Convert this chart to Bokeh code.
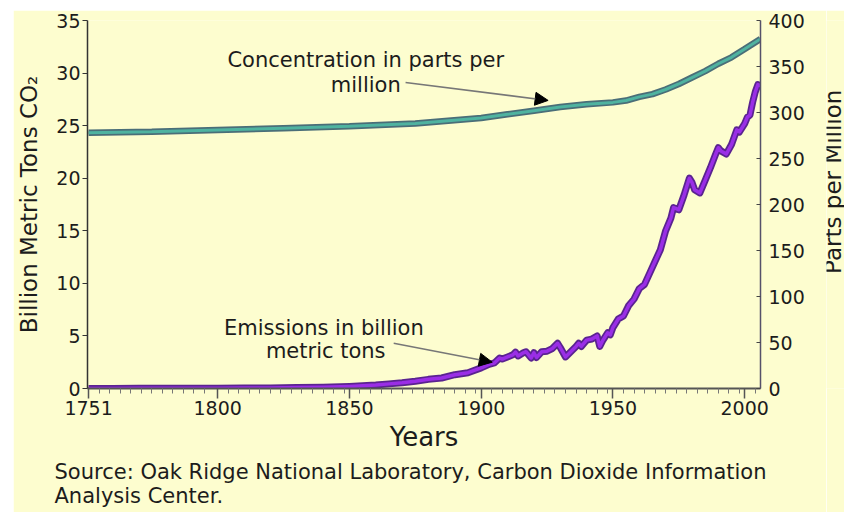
import math
from bokeh.plotting import figure
from bokeh.layouts import row
from bokeh.models import Range1d, LinearAxis, FixedTicker, Label, Arrow, NormalHead, Title
from bokeh.embed import file_html
from bokeh.resources import INLINE

# ---------------- data ----------------
emis_years = [1751, 1760, 1770, 1780, 1790, 1800, 1810, 1820, 1830, 1840, 1850, 1855,
              1860, 1865, 1870, 1875, 1880, 1885, 1890, 1895, 1900, 1903, 1905, 1907,
              1908, 1910, 1912, 1913, 1914, 1916, 1917, 1919, 1920, 1921, 1923, 1925,
              1927, 1929, 1930, 1932, 1934, 1936, 1937, 1938, 1940, 1942, 1944, 1945,
              1946, 1948, 1949, 1950, 1952, 1954, 1956, 1958, 1960, 1962, 1964, 1966,
              1968, 1970, 1972, 1973, 1974, 1975, 1977, 1979, 1980, 1981, 1983, 1985,
              1987, 1989, 1990, 1991, 1993, 1995, 1997, 1998, 2000, 2001, 2002, 2003,
              2004, 2005, 2006]
emis_values = [0.01, 0.01, 0.02, 0.02, 0.03, 0.03, 0.04, 0.05, 0.09, 0.13, 0.20, 0.26,
               0.33, 0.44, 0.54, 0.69, 0.87, 1.00, 1.31, 1.50, 1.96, 2.30, 2.43, 2.90,
               2.80, 3.00, 3.20, 3.46, 3.10, 3.40, 3.50, 2.90, 3.40, 2.95, 3.50, 3.55,
               3.80, 4.30, 3.90, 3.00, 3.50, 4.00, 4.30, 4.00, 4.60, 4.70, 5.00, 4.00,
               4.50, 5.30, 5.10, 5.80, 6.60, 6.90, 7.90, 8.50, 9.50, 9.90, 11.0, 12.1,
               13.2, 15.0, 16.2, 17.2, 17.1, 17.0, 18.4, 20.0, 19.6, 18.9, 18.6, 19.8,
               21.0, 22.3, 22.9, 22.6, 22.3, 23.2, 24.6, 24.4, 25.2, 25.8, 26.0, 27.2,
               28.2, 28.9, 28.8]

conc_years = [1751, 1775, 1800, 1825, 1850, 1875, 1900, 1910, 1920, 1930, 1940, 1950,
              1955, 1960, 1965, 1970, 1975, 1980, 1985, 1990, 1995, 2000, 2006]
conc_values = [278, 279, 281, 283, 285, 288, 294, 298, 302, 306, 309, 311,
               313, 317, 320, 325, 331, 338, 345, 353, 360, 369, 380]

x_major = [1751, 1800, 1850, 1900, 1950, 2000]
left_ticks = [0, 5, 10, 15, 20, 25, 30, 35]
right_ticks = [0, 50, 100, 150, 200, 250, 300, 350, 400]

YEL = "#fdfdcf"
FONT = "DejaVu Sans"
TXT = "#1c1c1c"

minor = []
bounds = x_major + [2006]
for a, b in zip(bounds[:-1], bounds[1:]):
    t = a + 4
    while t < b - 1:
        minor.append(t)
        t += 4

p = figure(width=813, height=502, x_range=Range1d(1750.6, 2006),
           y_range=Range1d(0, 35), output_backend="svg", toolbar_location=None,
           min_border_left=73, min_border_right=66, min_border_top=10,
           min_border_bottom=124, background_fill_color=YEL,
           border_fill_color=YEL, outline_line_color=None)
p.margin = (10, 0, 0, 13)
p.xgrid.visible = False
p.ygrid.visible = False

# x axis
xa = p.xaxis[0]
xa.ticker = FixedTicker(ticks=x_major, minor_ticks=minor)
xa.major_tick_out = 10
xa.major_tick_in = 0
xa.minor_tick_out = 5
xa.minor_tick_in = 0
xa.axis_line_color = "#555555"
xa.axis_line_width = 2
xa.major_tick_line_color = "#555555"
xa.major_tick_line_width = 1.5
xa.minor_tick_line_color = "#777777"
xa.major_label_text_font = FONT
xa.major_label_text_font_size = "19px"
xa.major_label_text_color = TXT
xa.major_label_standoff = 2
xa.axis_label = "Years"
xa.axis_label_text_font = FONT
xa.axis_label_text_font_size = "26px"
xa.axis_label_text_font_style = "normal"
xa.axis_label_text_color = TXT
xa.axis_label_standoff = 4

# left axis
ya = p.yaxis[0]
ya.ticker = FixedTicker(ticks=left_ticks)
ya.major_tick_out = 5
ya.major_tick_in = 0
ya.minor_tick_line_color = None
ya.axis_line_color = "#333333"
ya.axis_line_width = 1.5
ya.major_tick_line_color = "#333333"
ya.major_label_text_font = FONT
ya.major_label_text_font_size = "19px"
ya.major_label_text_color = TXT
ya.major_label_standoff = 2
ya.axis_label = "Billion Metric Tons CO₂"
ya.axis_label_text_font = FONT
ya.axis_label_text_font_size = "23px"
ya.axis_label_text_font_style = "normal"
ya.axis_label_text_color = TXT
ya.axis_label_standoff = 11

# right axis
p.extra_y_ranges = {"ppm": Range1d(0, 400)}
ra = LinearAxis(y_range_name="ppm", ticker=FixedTicker(ticks=right_ticks))
ra.major_tick_in = 4
ra.major_tick_out = 0
ra.minor_tick_line_color = None
ra.axis_line_color = "#55506a"
ra.axis_line_width = 1.5
ra.major_tick_line_color = "#444444"
ra.major_label_text_font = FONT
ra.major_label_text_font_size = "19px"
ra.major_label_text_color = TXT
ra.major_label_standoff = 8
p.add_layout(ra, "right")

# source title below (two lines)
t1 = Title(text="Source: Oak Ridge National Laboratory, Carbon Dioxide Information\nAnalysis Center.",
           align="left", offset=-33, text_font=FONT, text_font_size="21px",
           text_font_style="normal", text_color=TXT, standoff=7, text_line_height=1.0)
p.add_layout(t1, "below")

# lines
p.line(conc_years, conc_values, y_range_name="ppm", line_color="#4a6e78", line_width=6.5)
p.line(conc_years, conc_values, y_range_name="ppm", line_color="#4fb3a0", line_width=3)
p.line(emis_years, emis_values, line_color="#5a2390", line_width=7, line_join="round")
p.line(emis_years, emis_values, line_color="#9a2ee6", line_width=3.5, line_join="round")

# annotations
def lab(fig, x, y, t, size="21px", align="center", angle=0.0):
    fig.add_layout(Label(x=x, y=y, text=t, text_font=FONT, text_font_size=size,
                         text_color=TXT, text_align=align, text_baseline="middle",
                         angle=angle))

lab(p, 1856.2, 31.2, "Concentration in parts per")
lab(p, 1856.2, 28.9, "million")
lab(p, 1840.3, 5.8, "Emissions in billion")
lab(p, 1841.0, 3.6, "metric tons")

p.add_layout(Arrow(x_start=1871.3, y_start=29.1, x_end=1925.4, y_end=27.4,
                   line_color="#777777", line_width=1.5,
                   end=NormalHead(size=13, fill_color="black", line_color="black")))
p.add_layout(Arrow(x_start=1866.8, y_start=4.3, x_end=1904.2, y_end=2.5,
                   line_color="#777777", line_width=1.5,
                   end=NormalHead(size=13, fill_color="black", line_color="black")))

# narrow strip on the right holding the right-axis title (reads bottom to top)
p2 = figure(width=18, height=502, x_range=Range1d(0, 18), y_range=Range1d(0, 502),
            output_backend="svg", toolbar_location=None, x_axis_type=None,
            y_axis_type=None, title=None, min_border=0, min_border_left=0,
            min_border_right=0, min_border_top=0, min_border_bottom=0,
            background_fill_color=YEL, border_fill_color=YEL, outline_line_color=None)
p2.margin = (10, 0, 0, 0)
p2.xgrid.visible = False
p2.ygrid.visible = False
lab(p2, 6.5, 282, "Parts per Million", size="23px", angle=math.pi / 2)

layout = row(p, p2, spacing=0)
html = file_html(layout, INLINE)
html = html.replace("<body>", '<body style="background:#e4ebe0;">', 1)
open("out.html", "w").write(html)
